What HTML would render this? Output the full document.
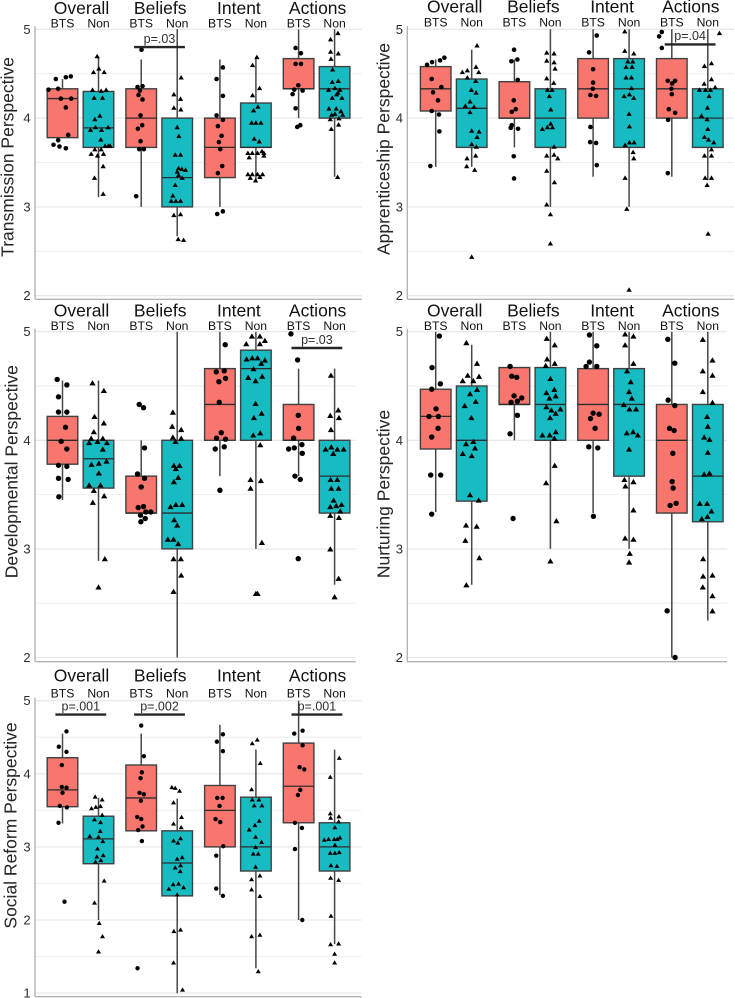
<!DOCTYPE html>
<html lang="en">
<head>
<meta charset="utf-8">
<title>Teaching perspectives box plots</title>
<style>
html,body{margin:0;padding:0;background:#fff;}
svg{display:block;font-family:"Liberation Sans",Arial,sans-serif;filter:blur(0.3px);}
</style>
</head>
<body>
<svg id="chart" width="735" height="998" viewBox="0 0 735 998" xmlns="http://www.w3.org/2000/svg"></svg>
<script>
const categories = ["Overall", "Beliefs", "Intent", "Actions"];
const groups = ["BTS", "Non"];
const perspectiveNames = ["Transmission Perspective", "Apprenticeship Perspective", "Developmental Perspective", "Nurturing Perspective", "Social Reform Perspective"];
const tickLabelsA = [5, 4, 3, 2];
const tickLabelsB = [5, 4, 3, 2, 1];

const transmissionHigh = [4.44,4.69,4.66,5,4.66,4.69,5,5];
const transmissionQ3 = [4.33,4.30,4.33,4,4,4.17,4.67,4.58];
const transmissionMedian = [4.22,3.89,4,3.33,3.67,3.67,4.33,4.33];
const transmissionQ1 = [3.78,3.67,3.67,3,3.33,3.67,4.33,4];
const transmissionLow = [3.78,3.11,3,2.67,3,3.3,4,3.34];
const transmissionValues = [
[4.32,4.44,4.33,4.46,4.47,4.22,4.22,4.12,3.81,3.75,3.70,3.68,3.66],
[4.70,4.52,4.56,4.52,4.32,4.31,4.32,4.23,4.23,4.03,3.99,3.87,3.90,3.87,3.90,3.76,3.65,3.65,3.60,3.58,3.60,3.69,3.69,3.69,3.46,3.33,3.15],
[4.77,4.35,4.36,4.31,4.26,4.21,4.03,3.92,3.88,3.74,3.65,3.65,3.12],
[4.46,4.27,4.22,4.12,4.10,3.90,3.80,3.59,3.59,3.44,3.43,3.42,3.40,3.36,3.33,3.25,3.13,3.07,3.07,3.07,2.91,2.92,2.64,2.63],
[4.57,4.44,4.25,4.03,3.98,3.91,3.80,3.73,3.65,3.46,3.38,2.92,2.95],
[4.69,4.60,4.34,4.26,4.13,4.09,3.95,3.95,3.95,3.77,3.74,3.61,3.61,3.61,3.63,3.61,3.56,3.58,3.37,3.37,3.37,3.37,3.33,3.30,3.34],
[4.79,4.73,4.61,4.61,4.37,4.32,4.31,4.27,4.11,3.90,3.92],
[4.96,4.89,4.75,4.73,4.67,4.55,4.41,4.42,4.32,4.34,4.32,4.23,4.27,4.23,4.29,4.11,4.11,4.08,4.04,4.05,4.04,3.99,4.00,3.93,3.88,3.34]
];
const transmissionJitter = [
[-42,-20,-13,10,25,-5,26,10,17,-13,-27,-9,10],
[-4,-15,1,17,-18,8,23,-13,12,4,-11,-24,-9,9,29,7,-11,8,-22,-3,15,20,30,35,14,-12,14],
[1,-11,4,-4,-8,4,-2,3,-10,-2,-6,8,-15],
[12,-10,10,-10,11,0,5,-6,10,4,14,25,0,4,15,-6,-13,-18,-4,10,-10,10,3,19],
[9,-10,9,-10,9,-6,5,-3,1,7,-6,-8,9],
[3,-10,11,-10,6,-7,-13,0,15,-5,10,-24,-11,5,18,24,-20,24,-24,-11,5,20,-17,-1,12],
[-9,7,-9,7,-1,-13,12,-18,-9,-4,5],
[10,-12,-12,11,-11,-6,-7,11,-18,1,16,-7,6,22,10,-17,5,19,-9,1,24,-13,13,12,-10,9]
];

const apprenticeshipHigh = [4.66,4.77,4.66,5,5,5,5,5];
const apprenticeshipQ3 = [4.58,4.44,4.41,4.33,4.67,4.67,4.67,4.33];
const apprenticeshipMedian = [4.33,4.11,4,4,4.33,4.33,4.33,4];
const apprenticeshipQ1 = [4.08,3.67,4,3.67,4,3.67,4,3.67];
const apprenticeshipLow = [3.45,3.45,3.67,3,3.34,3,3.34,3.3];
const apprenticeshipValues = [
[4.60,4.63,4.65,4.68,4.44,4.35,4.29,4.20,4.08,4.04,3.85,3.46],
[4.82,4.58,4.52,4.54,4.52,4.46,4.42,4.32,4.29,4.19,4.14,4.13,4.07,3.86,3.85,3.79,3.71,3.68,3.55,3.58,3.46,3.42,2.44],
[4.77,4.64,4.66,4.43,4.20,4.10,4.07,3.92,3.89,3.88,3.57,3.32],
[4.74,4.73,4.65,4.63,4.56,4.45,4.40,4.32,4.32,4.25,4.10,3.94,3.88,3.90,3.90,3.68,3.58,3.59,3.55,3.41,3.28,3.03,2.92,2.59],
[4.93,4.74,4.55,4.40,4.33,4.26,4.25,3.90,3.73,3.72,3.47],
[4.98,4.76,4.73,4.64,4.64,4.58,4.58,4.46,4.46,4.34,4.25,4.27,4.23,4.05,3.91,3.73,3.73,3.70,3.62,3.55,3.33,2.98,2.07],
[4.97,4.92,4.79,4.42,4.42,4.39,4.33,4.27,4.10,4.06,3.98,3.38],
[4.96,4.62,4.59,4.44,4.39,4.35,4.32,4.32,4.32,4.25,4.12,4.03,3.99,3.88,3.79,3.76,3.73,3.65,3.58,3.58,3.33,3.33,3.25,2.70]
];
const apprenticeshipJitter = [
[-26,-11,13,26,-12,17,-8,7,-12,10,11,-16],
[16,13,-28,-13,21,-13,12,-1,13,-5,-19,7,-5,0,22,16,0,14,-14,12,-15,9,0],
[-1,-9,9,10,-2,4,-8,-8,-11,11,-2,-1],
[-11,11,-11,11,14,-11,10,-9,5,-3,1,1,-24,-9,6,11,-11,11,22,-11,12,-11,0,0],
[11,-12,0,0,-1,-8,9,-8,-9,9,11],
[-13,-13,14,-4,11,-9,9,-9,7,7,-15,1,14,0,1,1,15,-12,12,14,-12,-7,0],
[-30,-38,-30,-12,10,1,-1,0,-9,10,-11,-12],
[35,11,-10,11,-11,22,-25,-7,8,4,-1,-19,-2,0,-10,2,18,11,-10,11,-8,11,-2,1]
];

const developmentalHigh = [4.55,4.55,4,5,5,5,4.66,4.66];
const developmentalQ3 = [4.22,4,3.67,4,4.66,4.83,4.33,4];
const developmentalMedian = [4,3.83,3.33,3.33,4.33,4.66,4,3.67];
const developmentalQ1 = [3.78,3.56,3.33,3,4,4,4,3.33];
const developmentalLow = [3.45,2.89,3.33,2,3.67,3,3.67,2.67];
const developmentalValues = [
[4.56,4.51,4.40,4.26,4.26,4.12,3.99,3.92,3.77,3.76,3.65,3.64,3.48],
[4.53,4.46,4.22,4.16,4.08,4.02,4.02,3.98,3.99,3.98,3.92,3.78,3.79,3.81,3.70,3.59,3.59,3.54,3.49,3.43,2.91,2.65],
[4.33,4.30,3.93,3.69,3.65,3.57,3.39,3.38,3.34,3.34,3.31,3.28,3.25],
[4.26,4.13,4.10,4.03,4.02,3.99,3.77,3.77,3.74,3.66,3.62,3.39,3.41,3.41,3.27,3.22,3.09,3.09,3.05,2.91,2.91,2.76,2.61],
[4.88,4.63,4.64,4.57,4.54,4.35,4.07,4.02,4.01,3.92,3.94,3.54],
[4.96,4.96,4.89,4.92,4.89,4.75,4.76,4.76,4.74,4.71,4.66,4.58,4.59,4.55,4.34,4.25,4.21,4.07,4.05,3.96,3.64,3.63,3.56,3.06,2.59,2.59],
[4.98,4.74,4.23,4.11,4.02,3.92,3.93,3.96,3.88,3.67,3.64,2.91],
[4.60,4.28,4.23,4.21,4.10,3.92,3.94,3.92,3.92,3.88,3.64,3.64,3.56,3.56,3.45,3.39,3.40,3.41,3.35,3.31,3.29,3.00,2.73,2.56]
];
const developmentalJitter = [
[-16,13,-12,-12,13,9,-4,13,-12,13,-12,17,-11],
[-18,16,-12,16,-14,-22,13,-28,-3,25,13,-21,1,24,1,-28,6,-14,17,-17,19,0],
[-6,7,10,-11,10,0,7,-9,14,29,-2,12,-1],
[-13,-15,12,-13,12,-5,-10,7,-4,3,-10,-20,-4,15,-9,0,-28,-11,3,-11,11,12,-11],
[16,-11,13,17,-3,-2,4,-10,17,-14,13,0],
[-12,12,-29,27,12,-28,-11,5,27,16,-7,-23,19,-1,-1,17,-6,13,-8,13,-16,15,-16,18,0,5],
[-23,-3,-1,0,-15,-30,-13,10,11,-11,5,-1],
[-11,11,-13,13,-11,-27,-10,8,27,-4,-12,8,-10,12,-3,-13,5,21,17,-13,13,-13,12,0]
];

const nurturingHigh = [5,4.88,4.67,5,5,5,5,5];
const nurturingQ3 = [4.47,4.5,4.67,4.67,4.66,4.66,4.33,4.33];
const nurturingMedian = [4.22,4,4.33,4.33,4.33,4.33,4,3.67];
const nurturingQ1 = [3.92,3.44,4.33,4,4,3.67,3.33,3.25];
const nurturingLow = [3.34,2.67,4,3,3.33,3,2,2.34];
const nurturingValues = [
[4.96,4.67,4.52,4.47,4.29,4.22,4.22,4.11,4.03,3.68,3.68,3.32],
[4.90,4.71,4.60,4.55,4.55,4.59,4.47,4.43,4.36,4.32,4.21,3.97,3.99,3.93,3.88,3.86,3.50,3.45,3.22,3.21,3.08,2.92,2.67],
[4.68,4.59,4.58,4.41,4.39,4.36,4.35,4.23,4.06,3.28],
[4.94,4.88,4.75,4.71,4.69,4.57,4.44,4.47,4.41,4.39,4.31,4.28,4.29,4.25,4.21,4.05,4.05,4.08,4.02,3.77,3.61,3.26,2.89],
[4.97,4.87,4.72,4.68,4.68,4.25,4.20,4.24,4.11,3.94,3.93,3.30],
[4.98,4.96,4.88,4.71,4.64,4.54,4.45,4.39,4.33,4.29,4.29,4.07,4.08,4.05,3.92,3.64,3.62,3.58,3.36,3.10,3.09,2.96,2.88],
[4.93,4.71,4.37,4.32,4.11,4.09,3.88,3.62,3.56,3.42,3.40,2.43,2.00],
[4.93,4.74,4.64,4.60,4.45,4.35,4.22,4.13,4.03,4.01,3.89,3.69,3.70,3.42,3.42,3.35,3.28,3.30,2.91,2.75,2.76,2.65,2.57,2.43]
];
const nurturingJitter = [
[11,-11,14,-12,1,-20,8,7,-12,-15,15,-12],
[-16,16,-12,-27,5,22,16,-5,12,-21,-1,-17,5,10,-27,0,-5,21,-17,15,-19,23,-16],
[-13,-8,7,-1,22,9,-10,9,-13,-4],
[-11,13,-10,13,-14,0,-12,12,16,-3,-12,3,30,16,-1,-24,-2,16,12,13,-13,18,0],
[-11,11,-11,-21,11,0,-8,18,6,-13,14,1],
[-12,13,-12,13,-6,5,0,8,-16,1,21,-7,12,26,0,-14,13,-11,13,-12,13,2,0],
[-12,9,-11,9,-7,7,3,1,4,13,-5,-14,10],
[-15,14,-15,14,-15,14,-2,0,-11,5,0,-11,5,-24,-2,11,-18,-1,-14,-14,14,-15,14,14]
];

const socialHigh = [4.55,3.67,4.55,3.66,4.67,4.33,5,4.33];
const socialQ3 = [4.22,3.42,4.12,3.22,3.84,3.68,4.42,3.33];
const socialMedian = [3.78,3.11,3.67,2.78,3.5,3,3.83,3];
const socialQ1 = [3.55,2.77,3.22,2.33,3,2.67,3.33,2.67];
const socialLow = [3.32,2,3.22,1,2.34,1.34,2,1.67];
const socialValues = [
[4.58,4.37,4.30,4.12,3.82,3.81,3.74,3.56,3.54,3.33,2.25],
[3.69,3.65,3.53,3.55,3.56,3.44,3.38,3.34,3.15,3.22,3.14,3.08,2.98,2.87,2.89,2.80,2.82,2.54,2.24,1.96,1.78,1.57],
[4.66,4.24,4.02,3.94,3.74,3.72,3.63,3.41,3.38,3.28,3.23,3.08,1.34],
[3.82,3.81,3.77,3.61,3.41,3.32,3.27,3.09,3.06,3.12,2.86,2.84,2.75,2.72,2.67,2.43,2.49,2.50,2.45,2.35,1.85,1.87,1.42,1.05],
[4.54,4.44,4.31,3.67,3.67,3.56,3.38,3.34,3.01,2.88,2.43,2.33],
[4.47,4.42,4.15,3.79,3.65,3.65,3.57,3.57,3.36,3.30,3.24,3.14,3.07,3.00,2.91,2.91,2.73,2.61,2.56,2.42,2.33,1.78,1.80,1.30],
[4.59,4.55,4.39,4.09,4.06,3.78,3.71,3.33,3.26,2.97,2.00],
[4.22,3.96,3.46,3.40,3.42,3.35,3.27,3.10,3.11,3.11,3.11,3.13,3.03,2.92,2.92,2.93,2.75,2.74,2.58,2.55,2.06,1.67,1.68,1.54,1.42]
];
const socialJitter = [
[12,-11,12,-2,-2,12,0,-8,13,-12,6],
[-10,11,-21,-8,6,11,-12,6,-26,5,0,13,-3,-5,14,-9,7,17,-12,2,12,0],
[0,8,2,-2,-5,8,-1,-12,0,4,-9,2,-11],
[-16,-6,7,-11,13,-11,12,-11,2,10,15,0,10,-6,9,-25,-12,4,19,0,-10,10,-11,16],
[9,-9,9,-8,8,-1,-13,1,10,-11,-11,9],
[4,-11,13,-13,-11,9,-5,18,10,-3,-20,-1,17,-1,-8,7,-1,12,-13,-13,12,-13,12,7],
[12,-13,12,3,17,5,-2,-11,10,-11,11],
[14,-13,-13,-12,13,12,1,-31,-18,-1,8,16,1,-13,1,14,-11,7,-12,12,-11,-12,12,0,0]
];

const transmissionSignificance = [{facet: 1, label: "p=.03", level: 4.8}];
const apprenticeshipSignificance = [{facet: 3, label: "p=.04", level: 4.83}];
const developmentalSignificance = [{facet: 3, label: "p=.03", level: 4.85}];
const nurturingSignificance = [];
const socialSignificance = [
  {facet: 0, label: "p=.001", level: 4.81},
  {facet: 1, label: "p=.002", level: 4.81},
  {facet: 3, label: "p=.001", level: 4.81}
];

/* ---- layout ---- */
const layouts = [
  {key:"transmission", left:35, right:362, top:29.3, unit:88.8, bottom:299.3, minTick:2, ticks:tickLabelsA, facetStart:80.5, tickRight:30.6, titleY:14, groupY:27.3, yTitleX:13.3, yTitleC:157, tri:5.3, dot:2.3, high:transmissionHigh, q3:transmissionQ3, med:transmissionMedian, q1:transmissionQ1, low:transmissionLow, vals:transmissionValues, jit:transmissionJitter, sig:transmissionSignificance, name:perspectiveNames[0]},
  {key:"apprenticeship", left:407.3, right:734, top:29.3, unit:88.8, bottom:299.3, minTick:2, ticks:tickLabelsA, facetStart:453.7, tickRight:403, titleY:12.7, groupY:26.7, yTitleX:389.3, yTitleC:149, tri:5.3, dot:2.3, high:apprenticeshipHigh, q3:apprenticeshipQ3, med:apprenticeshipMedian, q1:apprenticeshipQ1, low:apprenticeshipLow, vals:apprenticeshipValues, jit:apprenticeshipJitter, sig:apprenticeshipSignificance, name:perspectiveNames[1]},
  {key:"developmental", left:35, right:355.7, top:331.7, unit:108.6, bottom:661.7, minTick:2, ticks:tickLabelsA, facetStart:80.5, tickRight:30.6, titleY:316.7, groupY:330, yTitleX:17.3, yTitleC:471.7, tri:6.2, dot:2.7, high:developmentalHigh, q3:developmentalQ3, med:developmentalMedian, q1:developmentalQ1, low:developmentalLow, vals:developmentalValues, jit:developmentalJitter, sig:developmentalSignificance, name:perspectiveNames[2]},
  {key:"nurturing", left:407.3, right:727, top:331.7, unit:108.6, bottom:661.7, minTick:2, ticks:tickLabelsA, facetStart:453.7, tickRight:403, titleY:316.7, groupY:330, yTitleX:389.3, yTitleC:494, tri:6.2, dot:2.7, high:nurturingHigh, q3:nurturingQ3, med:nurturingMedian, q1:nurturingQ1, low:nurturingLow, vals:nurturingValues, jit:nurturingJitter, sig:nurturingSignificance, name:perspectiveNames[3]},
  {key:"social", left:35, right:361.7, top:700.7, unit:73.1, bottom:996.7, minTick:1, ticks:tickLabelsB, facetStart:80.5, tickRight:30.6, titleY:681.7, groupY:697.7, yTitleX:16.7, yTitleC:825.5, tri:5, dot:2.2, high:socialHigh, q3:socialQ3, med:socialMedian, q1:socialQ1, low:socialLow, vals:socialValues, jit:socialJitter, sig:socialSignificance, name:perspectiveNames[4]}
];
const facetStep = 78.7;
const dodge = 18;
const boxHalf = 15.3;
const jitterUnit = 1 / 3;
const sigHalf = 25.4;
const colors = ["#F8766D", "#17BCC3"];

const svg = document.getElementById("chart");
const NS = "http://www.w3.org/2000/svg";

function make(tag, attrs, parent) {
  const el = document.createElementNS(NS, tag);
  for (const k in attrs) el.setAttribute(k, attrs[k]);
  parent.appendChild(el);
  return el;
}

layouts.forEach(function (p) {
  const yScale = function (v) { return p.top + (5 - v) * p.unit; };
  const facetX = function (f) { return p.facetStart + f * facetStep; };
  const boxX = function (i) { return facetX(Math.floor(i / 2)) + (i % 2 === 0 ? -dodge : dodge); };

  const panel = make("g", {}, svg);
  
  

  // gridlines
  for (let v = 5; v >= p.minTick; v -= 0.5) {
    const major = Number.isInteger(v);
    const grid = make("line", {x1:p.left, x2:p.right, y1:yScale(v), y2:yScale(v), stroke: major ? "#e6e6e6" : "#eeeeee", "stroke-width": major ? 1.1 : 0.9}, panel);
    
    
  }

  // axes
  const yAxis = make("line", {x1:p.left, x2:p.left, y1:p.top - 3, y2:p.bottom, stroke:"#b4b4b4", "stroke-width":1.4}, panel);
  
  
  const xAxis = make("line", {x1:p.left, x2:p.right, y1:p.bottom, y2:p.bottom, stroke:"#b4b4b4", "stroke-width":1.4}, panel);
  
  

  // tick labels
  p.ticks.forEach(function (t) {
    const lab = make("text", {x:p.tickRight, y:yScale(t) + 4.5, "text-anchor":"end", "font-size":13, fill:"#2c2c2c"}, panel);
    lab.textContent = t;
    
    
  });

  // y axis title
  const yt = make("text", {transform:"translate(" + p.yTitleX + "," + p.yTitleC + ") rotate(-90)", "text-anchor":"middle", "font-size":17.5, fill:"#262626"}, panel);
  yt.textContent = p.name;
  
  

  // facet titles
  categories.forEach(function (c, f) {
    const ft = make("text", {x:facetX(f) + 1, y:p.titleY, "text-anchor":"middle", "font-size":17.5, fill:"#111"}, panel);
    ft.textContent = c;
    
    
  });

  // boxes
  for (let i = 0; i < 8; i++) {
    const cx = boxX(i);
    const grp = make("g", {}, panel);
    
    

    const gl = make("text", {x:cx, y:p.groupY, "text-anchor":"middle", "font-size":12.2, fill:"#111"}, grp);
    gl.textContent = groups[i % 2];
    
    

    const w = make("line", {x1:cx, x2:cx, y1:yScale(p.high[i]), y2:yScale(p.low[i]), stroke:"#484848", "stroke-width":1.5}, grp);
    
    

    const r = make("rect", {x:cx - boxHalf, width:boxHalf * 2, y:yScale(p.q3[i]), height:yScale(p.q1[i]) - yScale(p.q3[i]), fill:colors[i % 2], stroke:"#404040", "stroke-width":1.4}, grp);
    
    

    const m = make("line", {x1:cx - boxHalf, x2:cx + boxHalf, y1:yScale(p.med[i]), y2:yScale(p.med[i]), stroke:"#2c2c2c", "stroke-width":1.3}, grp);
    
    

    p.vals[i].forEach(function (v, k) {
      const px = cx + p.jit[i][k] * jitterUnit;
      const py = yScale(v);
      let mark;
      if (i % 2 === 0) {
        mark = make("circle", {cx:px, cy:py, r:p.dot, fill:"#000"}, grp);
      } else {
        const h = p.tri * 0.85;
        const hw = p.tri / 2;
        mark = make("polygon", {points:(px - hw) + "," + (py + h / 2) + " " + (px + hw) + "," + (py + h / 2) + " " + px + "," + (py - h / 2), fill:"#000"}, grp);
      }
      
      
    });
  }

  // significance annotations
  p.sig.forEach(function (s) {
    const c = facetX(s.facet) + 0.3;
    const y = yScale(s.level);
    const bar = make("line", {x1:c - sigHalf, x2:c + sigHalf, y1:y, y2:y, stroke:"#262626", "stroke-width":2.4}, panel);
    
    
    const t = make("text", {x:c, y:y - 4.2, "text-anchor":"middle", "font-size":12.5, fill:"#2c2c2c"}, panel);
    t.textContent = s.label;
    
    
  });
});
</script>
</body>
</html>
